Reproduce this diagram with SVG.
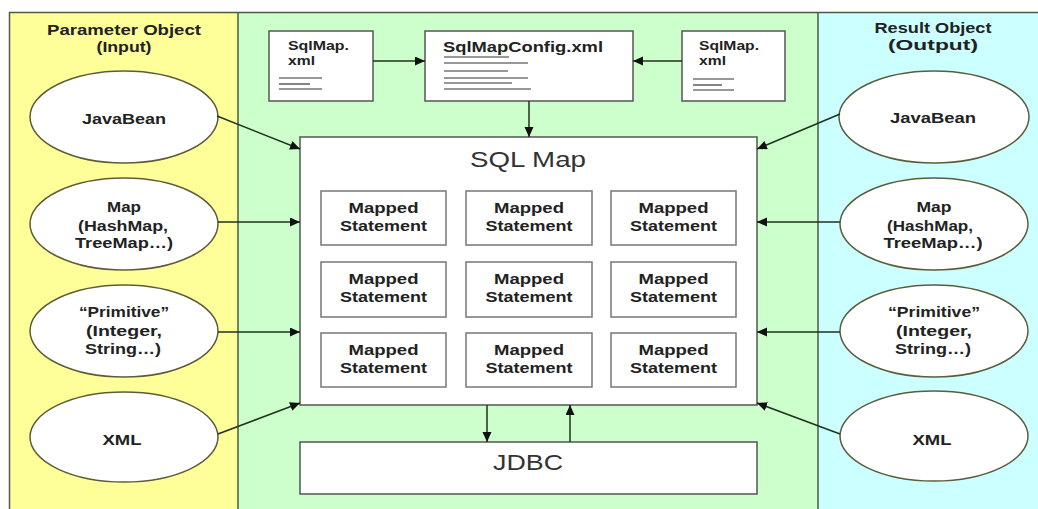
<svg xmlns="http://www.w3.org/2000/svg" width="1038" height="509" viewBox="0 0 1038 509">
<defs>
<marker id="ah" markerUnits="userSpaceOnUse" markerWidth="11" markerHeight="10" refX="10" refY="4.5" orient="auto">
<path d="M0,0 L10,4.5 L0,9 z" fill="#111"/>
</marker>
<style>
.t{font-family:"Liberation Sans",Arial,sans-serif;font-weight:bold;fill:#222;font-size:14px}
.h{font-size:15px}
.big{font-weight:normal;font-size:22px;fill:#333}
.box{fill:#fff;stroke:#555;stroke-width:1.5}
.ms{fill:#fff;stroke:#777;stroke-width:1.5}
.ell{fill:#fff;stroke:#5c5c3c;stroke-width:1.5}
.doc{stroke:#333;stroke-width:1.2}
.c{stroke:#1e331e;stroke-width:1.5;fill:none;marker-end:url(#ah)}
.div{stroke:#4d5a45;stroke-width:1.5}
</style>
</defs>
<rect width="1038" height="509" fill="#fff"/>
<g id="panels">
<rect x="9" y="12" width="229" height="497" fill="#ffff99"/>
<rect x="238" y="12" width="580" height="497" fill="#ccffcc"/>
<rect x="818" y="12" width="220" height="497" fill="#ccffff"/>
<line class="div" x1="9" y1="12.5" x2="1038" y2="12.5"/>
<line class="div" x1="9.5" y1="12" x2="9.5" y2="509"/>
<line class="div" x1="238" y1="12" x2="238" y2="509"/>
<line class="div" x1="818" y1="12" x2="818" y2="509"/>
<text class="t h" x="124" y="35" text-anchor="middle" textLength="154" lengthAdjust="spacingAndGlyphs">Parameter Object</text>
<text class="t h" x="124" y="52" text-anchor="middle" textLength="55" lengthAdjust="spacingAndGlyphs">(Input)</text>
<text class="t h" x="933" y="33" text-anchor="middle" textLength="117" lengthAdjust="spacingAndGlyphs">Result Object</text>
<text class="t h" x="933" y="50" text-anchor="middle" textLength="90" lengthAdjust="spacingAndGlyphs">(Output)</text>
</g>
<g id="sqlmap-left">
<rect class="box" x="269" y="31" width="104" height="70"/>
<text class="t" style="font-size:13px" x="288" y="50" textLength="61" lengthAdjust="spacingAndGlyphs">SqlMap.</text>
<text class="t" style="font-size:13px" x="288" y="65" textLength="27" lengthAdjust="spacingAndGlyphs">xml</text>
<line class="doc" x1="279" y1="78" x2="322" y2="78"/>
<line class="doc" x1="279" y1="84" x2="310" y2="84"/>
<line class="doc" x1="279" y1="89" x2="322" y2="89"/>
</g>
<g id="sqlmapconfig">
<rect class="box" x="425" y="31" width="208" height="70"/>
<text class="t h" x="443" y="52" textLength="160" lengthAdjust="spacingAndGlyphs">SqlMapConfig.xml</text>
<line class="doc" x1="444" y1="57" x2="509" y2="57"/>
<line class="doc" x1="444" y1="63" x2="528" y2="63"/>
<line class="doc" x1="444" y1="71" x2="508" y2="71"/>
<line class="doc" x1="444" y1="78" x2="528" y2="78"/>
<line class="doc" x1="444" y1="83" x2="512" y2="83"/>
<line class="doc" x1="444" y1="89" x2="531" y2="89"/>
</g>
<g id="sqlmap-right">
<rect class="box" x="682" y="31" width="103" height="70"/>
<text class="t" style="font-size:13px" x="699" y="50" textLength="60" lengthAdjust="spacingAndGlyphs">SqlMap.</text>
<text class="t" style="font-size:13px" x="699" y="65" textLength="27" lengthAdjust="spacingAndGlyphs">xml</text>
<line class="doc" x1="693" y1="79" x2="734" y2="79"/>
<line class="doc" x1="693" y1="85" x2="722" y2="85"/>
<line class="doc" x1="693" y1="90" x2="734" y2="90"/>
</g>
<g id="sql-map">
<rect class="box" x="300" y="137" width="457" height="268"/>
<text class="t big" x="528" y="167" text-anchor="middle" textLength="116" lengthAdjust="spacingAndGlyphs">SQL Map</text>
</g>
<g id="mapped-statements">
<g id="ms11"><rect class="ms" x="321" y="191" width="125" height="54"/><text class="t h" x="383.5" y="213" text-anchor="middle" textLength="70" lengthAdjust="spacingAndGlyphs">Mapped</text><text class="t h" x="383.5" y="231" text-anchor="middle" textLength="87" lengthAdjust="spacingAndGlyphs">Statement</text></g>
<g id="ms12"><rect class="ms" x="466" y="191" width="126" height="54"/><text class="t h" x="529" y="213" text-anchor="middle" textLength="70" lengthAdjust="spacingAndGlyphs">Mapped</text><text class="t h" x="529" y="231" text-anchor="middle" textLength="87" lengthAdjust="spacingAndGlyphs">Statement</text></g>
<g id="ms13"><rect class="ms" x="611" y="191" width="125" height="54"/><text class="t h" x="673.5" y="213" text-anchor="middle" textLength="70" lengthAdjust="spacingAndGlyphs">Mapped</text><text class="t h" x="673.5" y="231" text-anchor="middle" textLength="87" lengthAdjust="spacingAndGlyphs">Statement</text></g>
<g id="ms21"><rect class="ms" x="321" y="262" width="125" height="55"/><text class="t h" x="383.5" y="284" text-anchor="middle" textLength="70" lengthAdjust="spacingAndGlyphs">Mapped</text><text class="t h" x="383.5" y="302" text-anchor="middle" textLength="87" lengthAdjust="spacingAndGlyphs">Statement</text></g>
<g id="ms22"><rect class="ms" x="466" y="262" width="126" height="55"/><text class="t h" x="529" y="284" text-anchor="middle" textLength="70" lengthAdjust="spacingAndGlyphs">Mapped</text><text class="t h" x="529" y="302" text-anchor="middle" textLength="87" lengthAdjust="spacingAndGlyphs">Statement</text></g>
<g id="ms23"><rect class="ms" x="611" y="262" width="125" height="55"/><text class="t h" x="673.5" y="284" text-anchor="middle" textLength="70" lengthAdjust="spacingAndGlyphs">Mapped</text><text class="t h" x="673.5" y="302" text-anchor="middle" textLength="87" lengthAdjust="spacingAndGlyphs">Statement</text></g>
<g id="ms31"><rect class="ms" x="321" y="333" width="125" height="54"/><text class="t h" x="383.5" y="355" text-anchor="middle" textLength="70" lengthAdjust="spacingAndGlyphs">Mapped</text><text class="t h" x="383.5" y="373" text-anchor="middle" textLength="87" lengthAdjust="spacingAndGlyphs">Statement</text></g>
<g id="ms32"><rect class="ms" x="466" y="333" width="126" height="54"/><text class="t h" x="529" y="355" text-anchor="middle" textLength="70" lengthAdjust="spacingAndGlyphs">Mapped</text><text class="t h" x="529" y="373" text-anchor="middle" textLength="87" lengthAdjust="spacingAndGlyphs">Statement</text></g>
<g id="ms33"><rect class="ms" x="611" y="333" width="125" height="54"/><text class="t h" x="673.5" y="355" text-anchor="middle" textLength="70" lengthAdjust="spacingAndGlyphs">Mapped</text><text class="t h" x="673.5" y="373" text-anchor="middle" textLength="87" lengthAdjust="spacingAndGlyphs">Statement</text></g>
</g>
<g id="jdbc">
<rect class="box" x="300" y="442" width="457" height="52"/>
<text class="t big" x="528" y="470" text-anchor="middle" textLength="70" lengthAdjust="spacingAndGlyphs">JDBC</text>
</g>
<g id="in-javabean"><ellipse class="ell" cx="124" cy="117" rx="94" ry="46"/><text class="t h" x="124" y="124" text-anchor="middle" textLength="84" lengthAdjust="spacingAndGlyphs">JavaBean</text></g>
<g id="in-map"><ellipse class="ell" cx="124" cy="224" rx="94" ry="46"/>
<text class="t" x="124" y="212" text-anchor="middle" textLength="34" lengthAdjust="spacingAndGlyphs">Map</text>
<text class="t" x="123" y="231" text-anchor="middle" textLength="90" lengthAdjust="spacingAndGlyphs">(HashMap,</text>
<text class="t" x="124" y="248" text-anchor="middle" textLength="98" lengthAdjust="spacingAndGlyphs">TreeMap…)</text></g>
<g id="in-primitive"><ellipse class="ell" cx="124" cy="331" rx="94" ry="46"/>
<text class="t" x="124" y="317" text-anchor="middle" textLength="90" lengthAdjust="spacingAndGlyphs">“Primitive”</text>
<text class="t" x="124" y="336" text-anchor="middle" textLength="76" lengthAdjust="spacingAndGlyphs">(Integer,</text>
<text class="t" x="123" y="354" text-anchor="middle" textLength="76" lengthAdjust="spacingAndGlyphs">String…)</text></g>
<g id="in-xml"><ellipse class="ell" cx="124" cy="437" rx="94" ry="45"/><text class="t" x="122" y="445" text-anchor="middle" textLength="39" lengthAdjust="spacingAndGlyphs">XML</text></g>
<g id="out-javabean"><ellipse class="ell" cx="934" cy="117" rx="95" ry="46"/><text class="t h" x="933" y="123" text-anchor="middle" textLength="86" lengthAdjust="spacingAndGlyphs">JavaBean</text></g>
<g id="out-map"><ellipse class="ell" cx="934" cy="224" rx="94" ry="46"/>
<text class="t" x="934" y="212" text-anchor="middle" textLength="35" lengthAdjust="spacingAndGlyphs">Map</text>
<text class="t" x="930" y="231" text-anchor="middle" textLength="86" lengthAdjust="spacingAndGlyphs">(HashMap,</text>
<text class="t" x="933" y="248" text-anchor="middle" textLength="99" lengthAdjust="spacingAndGlyphs">TreeMap…)</text></g>
<g id="out-primitive"><ellipse class="ell" cx="934" cy="331" rx="94" ry="46"/>
<text class="t" x="934" y="317" text-anchor="middle" textLength="92" lengthAdjust="spacingAndGlyphs">“Primitive”</text>
<text class="t" x="934" y="336" text-anchor="middle" textLength="76" lengthAdjust="spacingAndGlyphs">(Integer,</text>
<text class="t" x="933" y="354" text-anchor="middle" textLength="76" lengthAdjust="spacingAndGlyphs">String…)</text></g>
<g id="out-xml"><ellipse class="ell" cx="934" cy="436" rx="94" ry="45"/><text class="t" x="932" y="445" text-anchor="middle" textLength="39" lengthAdjust="spacingAndGlyphs">XML</text></g>
<g id="connectors">
<line class="c" x1="373" y1="61" x2="425" y2="61"/>
<line class="c" x1="682" y1="61" x2="633" y2="61"/>
<line class="c" x1="529" y1="101" x2="529" y2="137"/>
<line class="c" x1="487" y1="405" x2="487" y2="442"/>
<line class="c" x1="570" y1="442" x2="570" y2="405"/>
<line class="c" x1="217" y1="116" x2="300" y2="149"/>
<line class="c" x1="218" y1="222" x2="300" y2="222"/>
<line class="c" x1="218" y1="332" x2="300" y2="332"/>
<line class="c" x1="218" y1="434" x2="300" y2="403"/>
<line class="c" x1="840" y1="114" x2="757" y2="149"/>
<line class="c" x1="840" y1="222" x2="757" y2="222"/>
<line class="c" x1="840" y1="332" x2="757" y2="332"/>
<line class="c" x1="840" y1="434" x2="757" y2="403"/>
</g>
</svg>
